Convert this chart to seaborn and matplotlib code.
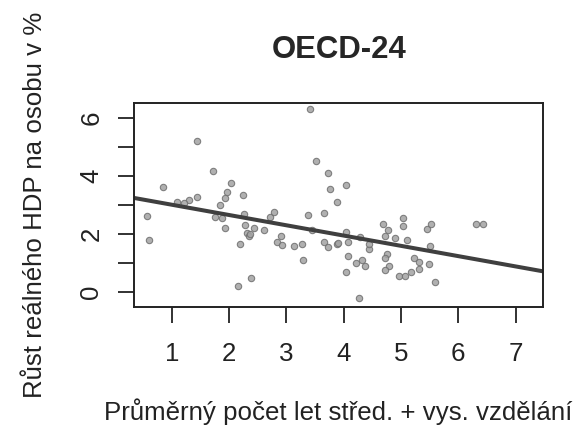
import matplotlib

matplotlib.use("Agg")
import matplotlib.pyplot as plt
import pandas as pd
import seaborn as sns


# roky vzdělání (x) a růst HDP na osobu (y)
education_years = [
    0.57, 0.60, 0.85, 1.09, 1.30, 1.44, 1.44, 1.72, 2.03, 1.96,
    1.93, 1.85, 1.75, 1.87, 1.93, 2.24, 2.26, 2.28, 2.32, 2.35,
    2.44, 2.20, 2.16, 2.38, 2.61, 2.72, 2.79, 2.91, 2.83, 2.93,
    3.13, 3.28, 3.30, 3.38, 3.41, 3.52, 3.45, 3.66, 3.73, 3.76,
    3.89, 3.66, 3.73, 3.89, 4.04, 4.04, 4.07, 4.07, 4.04, 4.21,
    4.32, 4.37, 4.27, 4.29, 4.45, 4.44, 4.69, 4.77, 4.73, 4.90,
    5.04, 5.04, 5.11, 4.76, 4.73, 4.80, 4.73, 4.97, 5.08, 5.17,
    5.22, 5.32, 5.32, 5.49, 5.60, 5.45, 5.53, 5.51, 6.31, 6.43,
    1.21, 2.36, 3.90,
]
gdp_growth = [
    2.61, 1.77, 3.62, 3.10, 3.16, 5.20, 3.28, 4.16, 3.76, 3.43,
    3.22, 2.99, 2.59, 2.53, 2.20, 3.34, 2.67, 2.31, 2.01, 1.92,
    2.20, 1.64, 0.21, 0.47, 2.13, 2.59, 2.74, 1.92, 1.70, 1.62,
    1.58, 1.64, 1.09, 2.65, 6.29, 4.51, 2.13, 2.72, 4.10, 3.55,
    3.08, 1.71, 1.55, 1.64, 3.69, 2.07, 1.70, 1.24, 0.69, 0.98,
    1.09, 0.90, -0.21, 1.90, 1.46, 1.64, 2.33, 2.13, 1.93, 1.86,
    2.54, 2.26, 1.78, 1.30, 1.15, 0.90, 0.74, 0.55, 0.55, 0.69,
    1.17, 1.02, 0.79, 0.95, 0.33, 2.17, 2.32, 1.59, 2.32, 2.32,
    3.05, 1.98, 1.68,
]

x_ticks = [1, 2, 3, 4, 5, 6, 7]
y_ticks = [0, 1, 2, 3, 4, 5, 6]
y_tick_labels = ["0", "", "2", "", "4", "", "6"]

TITLE = "OECD-24"
X_LABEL = "Průměrný počet let střed. + vys. vzdělání"
Y_LABEL = "Růst reálného HDP na osobu v %"


def main() -> None:
    sns.set_style("ticks")
    plt.rcParams["font.family"] = ["Liberation Sans", "DejaVu Sans"]
    plt.rcParams["font.size"] = 18.6

    df = pd.DataFrame({"educ": education_years, "growth": gdp_growth})

    fig = plt.figure(figsize=(5.75, 4.34), dpi=100)
    ax = fig.add_axes([134 / 575, 1 - 306.5 / 434, 409.3 / 575, 203.8 / 434])
    ax.set_xlim(0.342, 7.485)
    ax.set_ylim(-0.51, 6.52)

    sns.regplot(
        data=df,
        x="educ",
        y="growth",
        ci=None,
        truncate=False,
        ax=ax,
        scatter_kws={
            "s": 21,
            "color": "#a3a3a3",
            "edgecolor": "#6f6f6f",
            "linewidths": 0.8,
            "alpha": 0.85,
        },
        line_kws={"color": "#3f3f3f", "linewidth": 2.9},
    )
    ax.set_xlim(0.342, 7.485)
    ax.set_ylim(-0.51, 6.52)

    ax.set_xticks(x_ticks)
    ax.set_yticks(y_ticks)
    ax.set_yticklabels(y_tick_labels, rotation=90, va="center")
    ax.tick_params(axis="both", direction="out", length=11.5, width=1.3,
                   color="#222222", labelsize=18.6, labelcolor="#222222")
    ax.tick_params(axis="x", pad=14)
    ax.tick_params(axis="y", pad=10.5)
    for spine in ax.spines.values():
        spine.set_visible(True)
        spine.set_linewidth(1.4)
        spine.set_color("#222222")

    ax.set_title(TITLE, fontsize=22.4, fontweight="bold", pad=32)
    ax.set_xlabel(X_LABEL, fontsize=18.6, labelpad=23, color="#222222")
    ax.set_ylabel(Y_LABEL, fontsize=18.6, labelpad=23.5, color="#222222")

    fig.savefig("out.png", dpi=100)
    plt.close(fig)


if __name__ == "__main__":
    main()
